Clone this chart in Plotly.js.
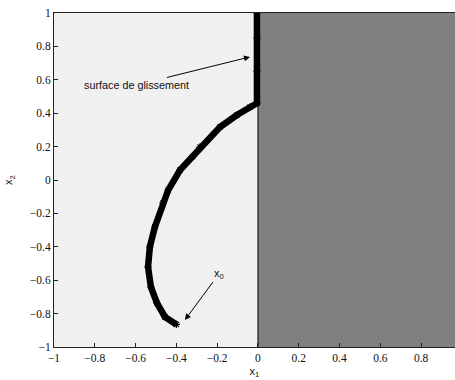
<!DOCTYPE html>
<html>
<head>
<meta charset="utf-8">
<script src="https://cdn.plot.ly/plotly-3.0.1.min.js"></script>
<style>html,body{margin:0;padding:0;background:#fff;overflow:hidden}</style>
</head>
<body>
<div id="chart" style="width:455px;height:380px"></div>
<script>
// trajectory (x1, x2)
var trajX1 = [-0.40, -0.456, -0.495, -0.525, -0.539, -0.530, -0.505, -0.466, -0.440, -0.382, -0.320, -0.284, -0.186, -0.103, -0.039, -0.005, -0.005, -0.005, -0.005];
var trajX2 = [-0.865, -0.82, -0.737, -0.64, -0.52, -0.40, -0.28, -0.138, -0.06, 0.06, 0.14, 0.198, 0.317, 0.389, 0.437, 0.46, 0.65, 0.85, 1.0];
var tickVals = [-1, -0.8, -0.6, -0.4, -0.2, 0, 0.2, 0.4, 0.6, 0.8, 1];
var tickText = ['\u22121', '\u22120.8', '\u22120.6', '\u22120.4', '\u22120.2', '0', '0.2', '0.4', '0.6', '0.8', '1'];
var regionLeft = [-1, 0];
var regionRight = [0, 1];

var serif = "Liberation Serif, Times New Roman, serif";
var sans = "Liberation Sans, Arial, Helvetica, sans-serif";

var trace = {
  x: trajX1, y: trajX2, type: 'scatter', mode: 'lines+markers',
  line: {color: '#000', width: 6.5},
  marker: {symbol: 'asterisk-open', size: 6, color: '#000', line: {color: '#000', width: 1.2}},
  hoverinfo: 'skip', showlegend: false
};

var layout = {
  width: 455, height: 380,
  margin: {l: 54, r: 0, t: 13, b: 33},
  paper_bgcolor: '#fff', plot_bgcolor: '#f0f0f0',
  font: {family: serif, size: 11, color: '#111'},
  xaxis: {
    range: [-1, 0.966], tickvals: tickVals, ticktext: tickText,
    tickfont: {family: serif, size: 11.5, color: '#111'},
    ticks: 'inside', ticklen: 4, tickcolor: '#222', showgrid: false, zeroline: false,
    showline: true, linecolor: '#222', linewidth: 1, mirror: true,
    title: {text: 'x<sub>1</sub>', font: {family: sans, size: 11, color: '#111'}, standoff: 4}
  },
  yaxis: {
    range: [-1, 1], tickvals: tickVals, ticktext: tickText,
    tickfont: {family: serif, size: 11.5, color: '#111'},
    ticks: 'inside', ticklen: 4, tickcolor: '#222', showgrid: false, zeroline: false,
    showline: true, linecolor: '#222', linewidth: 1, mirror: true,
    title: {text: 'x<sub>2</sub>', font: {family: sans, size: 11, color: '#111'}, standoff: 14}
  },
  shapes: [
    {type: 'rect', xref: 'x', yref: 'y', x0: regionLeft[0], x1: regionLeft[1], y0: -1, y1: 1, fillcolor: '#f0f0f0', line: {width: 0}, layer: 'below'},
    {type: 'rect', xref: 'x', yref: 'y', x0: regionRight[0], x1: regionRight[1], y0: -1, y1: 1, fillcolor: '#808080', line: {width: 0}, layer: 'below'},
    {type: 'line', xref: 'x', yref: 'y', x0: 0, x1: 0, y0: -1, y1: 1, line: {color: '#000', width: 1}, layer: 'below'}
  ],
  annotations: [
    {x: -0.039, y: 0.737, ax: -0.595, ay: 0.569, axref: 'x', ayref: 'y', xref: 'x', yref: 'y',
     showarrow: true, arrowhead: 2, arrowsize: 1.2, arrowwidth: 1, arrowcolor: '#000',
     text: 'surface de glissement', font: {family: sans, size: 10.8, color: '#111'}},
    {x: -0.358, y: -0.838, ax: -0.19, ay: -0.56, axref: 'x', ayref: 'y', xref: 'x', yref: 'y',
     showarrow: true, arrowhead: 2, arrowsize: 1.2, arrowwidth: 1, arrowcolor: '#000',
     text: 'x<sub>0</sub>', font: {family: sans, size: 11, color: '#111'}}
  ]
};

Plotly.newPlot('chart', [trace], layout, {displayModeBar: false, staticPlot: true});
</script>
</body>
</html>
